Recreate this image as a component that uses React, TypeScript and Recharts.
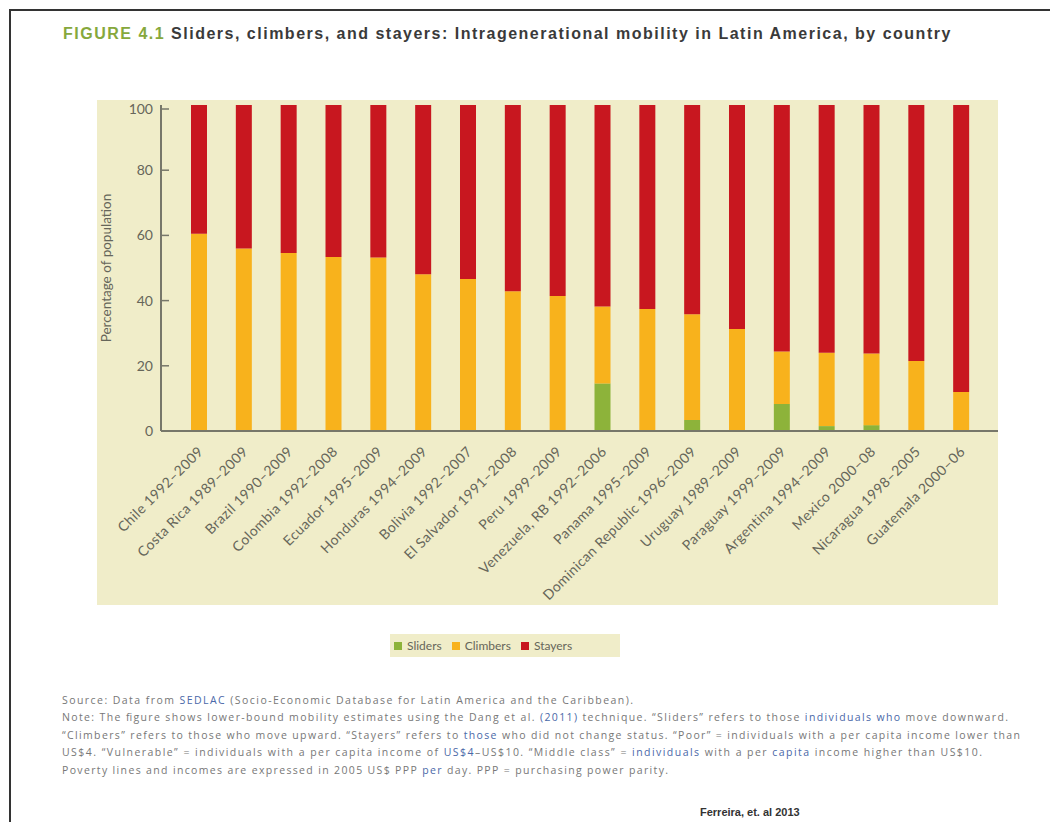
import { BarChart, Bar, XAxis, YAxis } from "recharts";

const countries = [
  "Chile 1992–2009",
  "Costa Rica 1989–2009",
  "Brazil 1990–2009",
  "Colombia 1992–2008",
  "Ecuador 1995–2009",
  "Honduras 1994–2009",
  "Bolivia 1992–2007",
  "El Salvador 1991–2008",
  "Peru 1999–2009",
  "Venezuela, RB 1992–2006",
  "Panama 1995–2009",
  "Dominican Republic 1996–2009",
  "Uruguay 1989–2009",
  "Paraguay 1999–2009",
  "Argentina 1994–2009",
  "Mexico 2000–08",
  "Nicaragua 1998–2005",
  "Guatemala 2000–06",
];
const sliders = [0, 0, 0, 0, 0, 0, 0, 0, 0, 14.6, 0, 3.4, 0, 8.3, 1.5, 1.8, 0, 0];
const climbers = [60.5, 56, 54.6, 53.4, 53.2, 48.1, 46.6, 42.9, 41.4, 23.6, 37.4, 32.4, 31.3, 16.1, 22.5, 22, 21.5, 12];
const stayers = [39.5, 44, 45.4, 46.6, 46.8, 51.9, 53.4, 57.1, 58.6, 61.8, 62.6, 64.2, 68.7, 75.6, 76, 76.2, 78.5, 88];
const yTicks = [0, 20, 40, 60, 80, 100];

const series = [
  { key: "sliders", name: "Sliders", color: "#8db33a" },
  { key: "climbers", name: "Climbers", color: "#f8b21c" },
  { key: "stayers", name: "Stayers", color: "#c8171f" },
];

const data = countries.map((country, i) => ({
  country,
  sliders: sliders[i],
  climbers: climbers[i],
  stayers: stayers[i],
}));

const BEIGE = "#f0edc9";
const AXIS = "#77776a";
const TEXT = "#66665a";

function YTick({ x, y, payload }: any) {
  return (
    <g>
      <line x1={x + 8} x2={x + 16} y1={y} y2={y} stroke={AXIS} strokeWidth={1.5} />
      <text x={x} y={y} dy="0.36em" textAnchor="end" fontSize={14} fill={TEXT} fontFamily="Lato, sans-serif">
        {payload.value}
      </text>
    </g>
  );
}

function XTick({ x, y, payload }: any) {
  return (
    <text
      x={x + 1}
      y={y}
      dy="0.36em"
      transform={`rotate(-45 ${x + 1} ${y})`}
      textAnchor="end"
      fontSize={14}
      letterSpacing={0.4}
      fill={TEXT}
      fontFamily="Lato, sans-serif"
    >
      {payload.value}
    </text>
  );
}

const notes = [
  { w: 571, parts: [["Source: Data from ", 0], ["SEDLAC", 1], [" (Socio-Economic Database for Latin America and the Caribbean).", 0]] },
  { w: 946, parts: [["Note: The figure shows lower-bound mobility estimates using the Dang et al. ", 0], ["(2011)", 1], [" technique. “Sliders” refers to those ", 0], ["individuals who", 1], [" move downward.", 0]] },
  { w: 958, parts: [["“Climbers” refers to those who move upward. “Stayers” refers to ", 0], ["those", 1], [" who did not change status. “Poor” = individuals with a per capita income lower than", 0]] },
  { w: 920, parts: [["US$4. “Vulnerable” = individuals with a per capita income of ", 0], ["US$4", 1], ["–US$10. “Middle class” = ", 0], ["individuals", 1], [" with a per ", 0], ["capita", 1], [" income higher than US$10.", 0]] },
  { w: 606, parts: [["Poverty lines and incomes are expressed in 2005 US$ PPP ", 0], ["per", 1], [" day. PPP = purchasing power parity.", 0]] },
];

export default function App() {
  return (
    <div style={{ position: "absolute", left: 0, top: 0, width: 1050, height: 822, background: "#fff", overflow: "hidden" }}>
      <div style={{ position: "absolute", left: 9, top: 9, width: 1041, height: 2, background: "#333" }} />
      <div style={{ position: "absolute", left: 9, top: 9, width: 2, height: 813, background: "#333" }} />

      <div
        style={{
          position: "absolute",
          left: 63,
          top: 25,
          fontFamily: "'Liberation Sans', Arial, sans-serif",
          fontWeight: "bold",
          fontSize: 16,
          letterSpacing: 1.5,
          color: "#3a3a3a",
          whiteSpace: "nowrap",
        }}
      >
        <span style={{ color: "#86a83c" }}>FIGURE 4.1</span> Sliders, climbers, and stayers: Intragenerational mobility in Latin America, by country
      </div>

      <div style={{ position: "absolute", left: 97, top: 100, width: 901, height: 505, background: BEIGE }}>
        <BarChart width={901} height={505} data={data} margin={{ top: 5, right: 0, bottom: 0, left: 0 }} barSize={16}>
          <YAxis
            domain={[0, 100]}
            ticks={yTicks}
            width={64}
            axisLine={{ stroke: AXIS, strokeWidth: 2 }}
            tickLine={false}
            tickSize={0}
            tickMargin={8}
            tick={<YTick />}
            label={{
              value: "Percentage of population",
              angle: -90,
              position: "insideLeft",
              offset: 9,
              style: { textAnchor: "middle", fontSize: 13.5, fill: TEXT, fontFamily: "Lato, sans-serif" },
            }}
          />
          <XAxis
            dataKey="country"
            interval={0}
            height={174}
            padding={{ left: 16, right: 14 }}
            axisLine={{ stroke: AXIS, strokeWidth: 2 }}
            tickLine={false}
            tickSize={0}
            tickMargin={18}
            tick={<XTick />}
          />
          {series.map((s) => (
            <Bar key={s.key} dataKey={s.key} name={s.name} stackId="a" fill={s.color} isAnimationActive={false} />
          ))}
        </BarChart>
      </div>

      <div
        style={{
          position: "absolute",
          left: 390,
          top: 634,
          width: 230,
          height: 23,
          background: BEIGE,
          display: "flex",
          alignItems: "center",
          fontFamily: "Lato, sans-serif",
          fontSize: 12,
          color: TEXT,
        }}
      >
        {series.map((s, i) => (
          <div key={s.key} style={{ display: "flex", alignItems: "center", marginLeft: i === 0 ? 4 : 10 }}>
            <span style={{ width: 8, height: 8, background: s.color, display: "inline-block", marginRight: 5 }} />
            {s.name}
          </div>
        ))}
      </div>

      <svg style={{ position: "absolute", left: 0, top: 0 }} width={1050} height={822}>
        {notes.map((n, i) => (
          <text
            key={i}
            x={62}
            y={700 + i * 17.5}
            dy="0.35em"
            fontSize={10.5}
            fill="#777"
            fontFamily="'Open Sans', sans-serif"
            textLength={n.w}
            lengthAdjust="spacing"
          >
            {n.parts.map(([t, blue], j) => (
              <tspan key={j} fill={blue ? "#4a68a8" : "#777"}>
                {t as string}
              </tspan>
            ))}
          </text>
        ))}
        <text x={700} y={812} dy="0.35em" fontSize={11} fontWeight="bold" fill="#333" fontFamily="'Liberation Sans', Arial, sans-serif">
          Ferreira, et. al 2013
        </text>
      </svg>
    </div>
  );
}
